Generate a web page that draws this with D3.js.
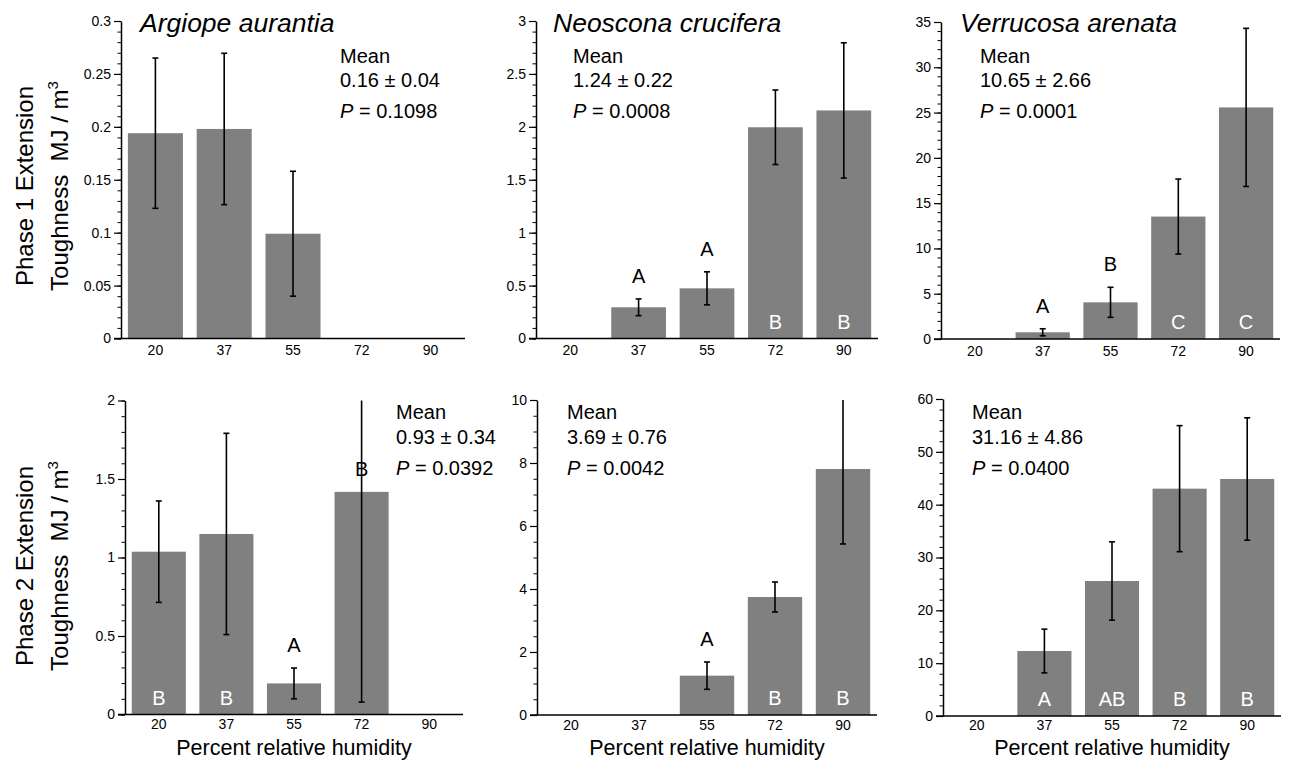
<!DOCTYPE html>
<html><head><meta charset="utf-8">
<script src="https://cdn.jsdelivr.net/npm/d3@7"></script>
<style>
body{margin:0;background:#fff}
svg{display:block}
text{font-family:"Liberation Sans",Arial,Helvetica,sans-serif}
</style>
</head><body>
<svg id="chart" width="1290" height="760"></svg>
<script>
// ---------- data ----------
const categories = ["20", "37", "55", "72", "90"];
const species = ["Argiope aurantia", "Neoscona crucifera", "Verrucosa arenata"];
const rowLabels = ["Phase 1 Extension", "Phase 2 Extension"];
const xAxisLabel = "Percent relative humidity";

// Phase 1 (top row)
const aaP1Mean = [0.194, 0.198, 0.099, null, null];
const aaP1Err  = [0.071, 0.0715, 0.059, null, null];
const ncP1Mean = [null, 0.295, 0.474, 1.996, 2.155];
const ncP1Err  = [null, 0.079, 0.156, 0.352, 0.639];
const vaP1Mean = [null, 0.74, 4.05, 13.52, 25.57];
const vaP1Err  = [null, 0.39, 1.66, 4.14, 8.73];
// Phase 2 (bottom row)
const aaP2Mean = [1.037, 1.150, 0.198, 1.418, null];
const aaP2Err  = [0.323, 0.641, 0.098, 1.339, null];
const ncP2Mean = [null, null, 1.249, 3.746, 7.81];
const ncP2Err  = [null, null, 0.434, 0.476, 2.38];
const vaP2Mean = [null, 12.30, 25.55, 43.03, 44.86];
const vaP2Err  = [null, 4.14, 7.41, 11.93, 11.58];

// letters above bars / inside bars
const aaP1Above = ["", "", "", "", ""];  const aaP1Inside = ["", "", "", "", ""];
const ncP1Above = ["", "A", "A", "", ""]; const ncP1Inside = ["", "", "", "B", "B"];
const vaP1Above = ["", "A", "B", "", ""]; const vaP1Inside = ["", "", "", "C", "C"];
const aaP2Above = ["", "", "A", "B", ""]; const aaP2Inside = ["B", "B", "", "", ""];
const ncP2Above = ["", "", "A", "", ""];  const ncP2Inside = ["", "", "", "B", "B"];
const vaP2Above = ["", "", "", "", ""];   const vaP2Inside = ["", "A", "AB", "B", "B"];

// summary statistics text
const meanTexts = ["0.16 ± 0.04", "1.24 ± 0.22", "10.65 ± 2.66", "0.93 ± 0.34", "3.69 ± 0.76", "31.16 ± 4.86"];
const pTexts = ["0.1098", "0.0008", "0.0001", "0.0392", "0.0042", "0.0400"];

// y tick labels
const aaP1Ticks = [0, 0.05, 0.1, 0.15, 0.2, 0.25, 0.3];
const ncP1Ticks = [0, 0.5, 1, 1.5, 2, 2.5, 3];
const vaP1Ticks = [0, 5, 10, 15, 20, 25, 30, 35];
const aaP2Ticks = [0, 0.5, 1, 1.5, 2];
const ncP2Ticks = [0, 2, 4, 6, 8, 10];
const vaP2Ticks = [0, 10, 20, 30, 40, 50, 60];
const minorSteps = [0.01, 0.1, 1, 0.1, 0.5, 2];

// ---------- layout (positions only) ----------
const layout = [
  {x0: 121, x1: 465, yt: 21, yb: 338.5, meanX: 340, meanY: [62.7, 87.3, 118.3], titleX: 140, pad: 7},
  {x0: 536, x1: 878, yt: 21, yb: 338.5, meanX: 573, meanY: [62.7, 87.3, 118.3], titleX: 553, pad: 7},
  {x0: 941, x1: 1280, yt: 22, yb: 339, meanX: 980, meanY: [62.7, 87.3, 118.3], titleX: 960, pad: 7},
  {x0: 125, x1: 463, yt: 400.5, yb: 714.5, meanX: 396, meanY: [419, 443.5, 475], pad: 5},
  {x0: 537, x1: 877, yt: 400, yb: 715, meanX: 567, meanY: [419, 443.5, 475], pad: 5},
  {x0: 943, x1: 1281, yt: 399, yb: 716, meanX: 972, meanY: [419, 443.5, 475], pad: 4}
];

const panels = [
  {mean: aaP1Mean, err: aaP1Err, ticks: aaP1Ticks, above: aaP1Above, inside: aaP1Inside, title: species[0]},
  {mean: ncP1Mean, err: ncP1Err, ticks: ncP1Ticks, above: ncP1Above, inside: ncP1Inside, title: species[1]},
  {mean: vaP1Mean, err: vaP1Err, ticks: vaP1Ticks, above: vaP1Above, inside: vaP1Inside, title: species[2]},
  {mean: aaP2Mean, err: aaP2Err, ticks: aaP2Ticks, above: aaP2Above, inside: aaP2Inside},
  {mean: ncP2Mean, err: ncP2Err, ticks: ncP2Ticks, above: ncP2Above, inside: ncP2Inside},
  {mean: vaP2Mean, err: vaP2Err, ticks: vaP2Ticks, above: vaP2Above, inside: vaP2Inside}
];

const svg = d3.select("#chart");

panels.forEach((p, i) => {
  const L = layout[i];
  const g = svg.append("g");
  const yMax = p.ticks[p.ticks.length - 1];
  const x = d3.scaleBand().domain(categories).range([L.x0, L.x1]).paddingInner(0.2).paddingOuter(0.1);
  const y = d3.scaleLinear().domain([0, yMax]).range([L.yb, L.yt]);

  const rows = categories.map((c, k) => ({c, m: p.mean[k], e: p.err[k], a: p.above[k], n: p.inside[k]}));
  const present = rows.filter(r => r.m !== null);

  // bars
  g.selectAll("rect.bar").data(present).join("rect")
    .attr("class", "bar")
    .attr("x", d => x(d.c)).attr("width", x.bandwidth())
    .attr("y", d => y(d.m)).attr("height", d => y(0) - y(d.m))
    .attr("fill", "#808080");

  // error bars
  const capW = 3;
  present.forEach(d => {
    const cx = x(d.c) + x.bandwidth() / 2;
    const hi = d.m + d.e, lo = Math.max(0, d.m - d.e);
    const hiC = Math.min(hi, yMax);
    g.append("line").attr("x1", cx).attr("x2", cx).attr("y1", y(lo)).attr("y2", y(hiC))
      .attr("stroke", "#000").attr("stroke-width", 1.6);
    if (hi <= yMax) g.append("line").attr("x1", cx - capW).attr("x2", cx + capW).attr("y1", y(hi)).attr("y2", y(hi)).attr("stroke", "#000").attr("stroke-width", 1.6);
    g.append("line").attr("x1", cx - capW).attr("x2", cx + capW).attr("y1", y(lo)).attr("y2", y(lo)).attr("stroke", "#000").attr("stroke-width", 1.6);
  });

  // letters
  rows.filter(d => d.a).forEach(d => {
    const top = (d.m + d.e <= yMax) ? d.m + d.e : d.m;
    g.append("text").attr("x", x(d.c) + x.bandwidth() / 2).attr("y", y(top) - 16)
      .attr("text-anchor", "middle").attr("font-size", 20).attr("fill", "#000").text(d.a);
  });
  rows.filter(d => d.n).forEach(d => {
    g.append("text").attr("x", x(d.c) + x.bandwidth() / 2).attr("y", y(0) - 10)
      .attr("text-anchor", "middle").attr("font-size", 20).attr("fill", "#fff").text(d.n);
  });

  // axes
  const minor = d3.range(0, yMax + 1e-9, minorSteps[i]);
  const gMinor = g.append("g").attr("transform", `translate(${L.x0},0)`)
    .call(d3.axisLeft(y).tickValues(minor).tickSize(3.5).tickFormat(""));
  gMinor.select(".domain").remove();
  gMinor.selectAll("line").attr("stroke-width", 1);

  const gy = g.append("g").attr("transform", `translate(${L.x0},0)`)
    .call(d3.axisLeft(y).tickValues(p.ticks).tickSize(7).tickSizeOuter(0).tickPadding(3)
      .tickFormat(d3.format("~g")));
  gy.select(".domain").attr("stroke-width", 1.5);
  gy.selectAll("line").attr("stroke-width", 1.2);
  gy.selectAll("text").attr("font-size", 14).attr("fill", "#000").attr("font-family", '"Liberation Sans",Arial,sans-serif');

  const gx = g.append("g").attr("transform", `translate(0,${L.yb})`)
    .call(d3.axisBottom(x).tickSize(0).tickSizeOuter(0).tickPadding(L.pad));
  gx.select(".domain").attr("stroke-width", 1.5).attr("d", `M${L.x0 - 7},0H${L.x1}`);
  gx.selectAll("text").attr("font-size", 14).attr("fill", "#000").attr("font-family", '"Liberation Sans",Arial,sans-serif');

  // title
  if (p.title) {
    g.append("text").attr("x", L.titleX).attr("y", 32).attr("font-size", 26.5)
      .attr("font-style", "italic").attr("fill", "#000").text(p.title);
  }

  // stats
  g.append("text").attr("x", L.meanX).attr("y", L.meanY[0]).attr("font-size", 20).text("Mean");
  g.append("text").attr("x", L.meanX).attr("y", L.meanY[1]).attr("font-size", 20).text(meanTexts[i]);
  const pt = g.append("text").attr("x", L.meanX).attr("y", L.meanY[2]).attr("font-size", 20);
  pt.append("tspan").attr("font-style", "italic").text("P");
  pt.append("tspan").text(" = " + pTexts[i]);

  // x label for bottom row
  if (i >= 3) {
    g.append("text").attr("x", (L.x0 + L.x1) / 2).attr("y", 755).attr("text-anchor", "middle")
      .attr("font-size", 21.5).text(xAxisLabel);
  }
});

// row labels
[[186, 0], [566, 1]].forEach(([cy, r]) => {
  svg.append("text").attr("transform", `translate(33,${cy}) rotate(-90)`).attr("text-anchor", "middle")
    .attr("font-size", 24).text(rowLabels[r]);
  const t = svg.append("text").attr("transform", `translate(68,${cy}) rotate(-90)`).attr("text-anchor", "middle")
    .attr("font-size", 24);
  t.append("tspan").text("Toughness\u00a0\u00a0MJ / m");
  t.append("tspan").attr("font-size", 15).attr("dy", -10).text("3");
});
</script>
</body></html>
